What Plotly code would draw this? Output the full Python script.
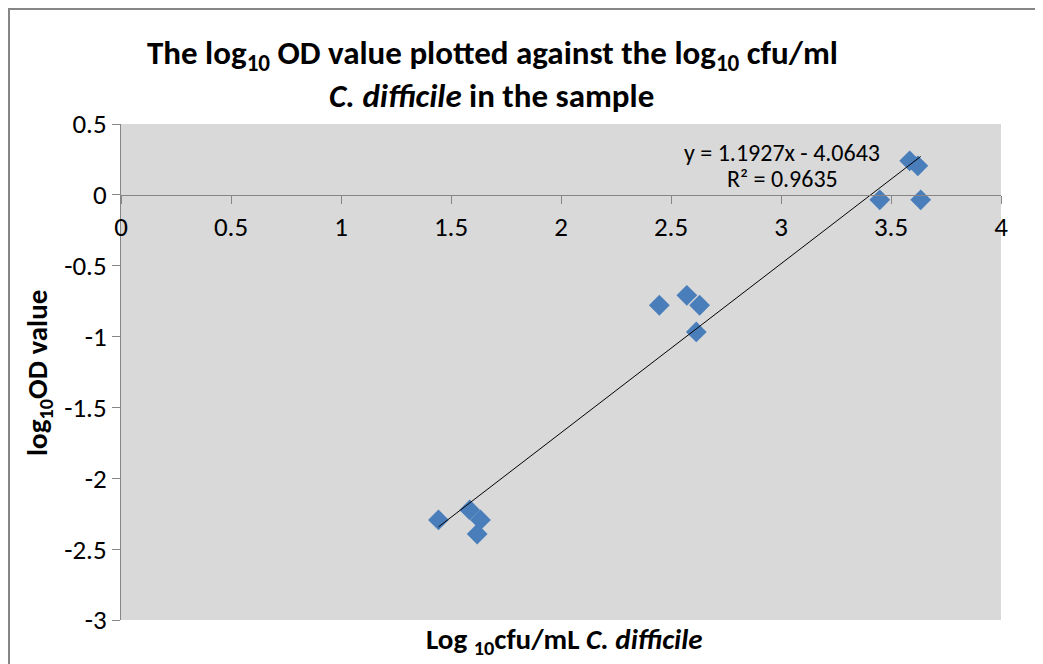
import plotly.graph_objects as go

# Data
log_cfu = [1.443, 1.585, 1.634, 1.619, 2.447, 2.572, 2.630, 2.615, 3.449, 3.585, 3.622, 3.635]
log_od = [-2.294, -2.223, -2.294, -2.393, -0.779, -0.709, -0.779, -0.967, -0.035, 0.240, 0.205, -0.035]

slope = 1.1927
intercept = -4.0643
r_squared = 0.9635

x_tickvals = [0, 0.5, 1, 1.5, 2, 2.5, 3, 3.5, 4]
x_ticktext = ["0", "0.5", "1", "1.5", "2", "2.5", "3", "3.5", "4"]
y_tickvals = [0.5, 0, -0.5, -1, -1.5, -2, -2.5, -3]
y_ticktext = ["0.5", "0", "-0.5", "-1", "-1.5", "-2", "-2.5", "-3"]

FONT = "Carlito, Lato, Liberation Sans, sans-serif"
OFF = 8  # page body margin
W, H = 1043 - OFF, 664 - OFF
L, R, T, B = 121 - OFF, 42, 124 - OFF, 44
pw, ph = W - L - R, H - T - B

def px_x(p):
    return (p - OFF - L) / pw

def px_y(p):
    return (H - B - (p - OFF)) / ph

fig = go.Figure()
fig.add_trace(go.Scatter(
    x=log_cfu, y=log_od, mode="markers",
    marker=dict(symbol="diamond", size=16, color="#4A7EBB", line=dict(width=0)),
    showlegend=False, cliponaxis=False,
))
xmin, xmax = min(log_cfu), max(log_cfu)
fig.add_trace(go.Scatter(
    x=[xmin, xmax], y=[slope * xmin + intercept, slope * xmax + intercept],
    mode="lines", line=dict(color="#000000", width=1), showlegend=False,
))

fig.update_layout(
    width=W, height=H,
    margin=dict(l=L, r=R, t=T, b=B),
    paper_bgcolor="white", plot_bgcolor="#D9D9D9",
    font=dict(family=FONT, color="#000000"),
    xaxis=dict(range=[0, 4], tickvals=x_tickvals, ticktext=x_ticktext,
               anchor="free", position=3 / 3.5,
               showline=True, linecolor="#868686", linewidth=1,
               ticks="outside", ticklen=8, tickcolor="#868686",
               tickfont=dict(size=27, family=FONT), showgrid=False, zeroline=False),
    yaxis=dict(range=[-3, 0.5], tickvals=y_tickvals, ticktext=y_ticktext,
               showline=True, linecolor="#868686", linewidth=1,
               ticks="outside", ticklen=8, tickcolor="#868686",
               tickfont=dict(size=27, family=FONT), showgrid=False, zeroline=False),
    shapes=[
        dict(type="line", xref="paper", yref="paper", x0=px_x(8), x1=px_x(1100),
             y0=px_y(9), y1=px_y(9), line=dict(color="#868686", width=2)),
        dict(type="line", xref="paper", yref="paper", x0=px_x(9), x1=px_x(9),
             y0=px_y(8), y1=px_y(700), line=dict(color="#868686", width=2)),
    ],
    annotations=[
        dict(text="<b>The log<sub>10</sub> OD value plotted against the log<sub>10</sub> cfu/ml</b>",
             xref="paper", yref="paper", x=px_x(492), y=px_y(55), showarrow=False,
             xanchor="center", yanchor="middle", font=dict(size=33)),
        dict(text="<b><i>C. difficile</i> in the sample</b>",
             xref="paper", yref="paper", x=px_x(491), y=px_y(96), showarrow=False,
             xanchor="center", yanchor="middle", font=dict(size=33)),
        dict(text="<b>log<sub>10</sub>OD value</b>", textangle=-90,
             xref="paper", yref="paper", x=px_x(38), y=px_y(373), showarrow=False,
             xanchor="center", yanchor="middle", font=dict(size=29)),
        dict(text="<b>Log <sub>10</sub>cfu/mL <i>C. difficile</i></b>",
             xref="paper", yref="paper", x=px_x(564), y=px_y(640), showarrow=False,
             xanchor="center", yanchor="middle", font=dict(size=29)),
        dict(text=f"y = {slope}x - {abs(intercept)}",
             xref="x", yref="y", x=3.006, y=0.296, showarrow=False,
             xanchor="center", yanchor="middle", font=dict(size=24)),
        dict(text=f"R² = {r_squared}",
             xref="x", yref="y", x=3.006, y=0.113, showarrow=False,
             xanchor="center", yanchor="middle", font=dict(size=24)),
    ],
)

fig.write_html("out.html")
